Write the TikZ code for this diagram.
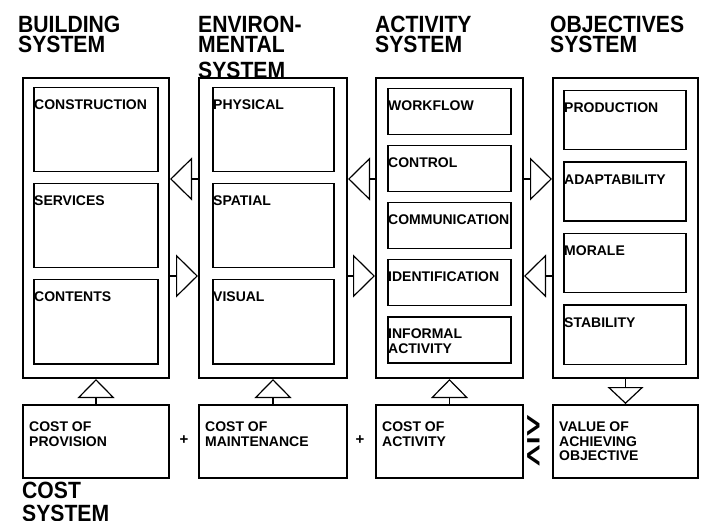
\documentclass[tikz,border=0pt]{standalone}
\usepackage{fontspec}
\setmainfont{Liberation Sans}
\newfontfamily\titlefont[FakeStretch=0.9]{Liberation Sans}
\newfontfamily\relfont{DejaVu Sans}
\usetikzlibrary{arrows.meta}

\tikzset{
  sysbox/.style={draw, line width=2pt, anchor=north west, minimum height=300pt, inner sep=0pt},
  partbox/.style={draw, line width=1.5pt, anchor=north west, inner sep=0pt},
  costbox/.style={draw, line width=2pt, anchor=north west, minimum height=73pt, inner sep=0pt},
  partlabel/.style={anchor=north west, inner sep=0pt, align=left, xshift=1pt, yshift=-13pt, font=\bfseries\fontsize{14}{14.5}\selectfont},
  systitle/.style={anchor=north west, inner sep=0pt, align=left, font=\titlefont\bfseries\fontsize{23.5}{20}\selectfont},
  op/.style={inner sep=0pt, font=\bfseries\fontsize{15}{15}\selectfont},
  htri/.style={line width=1.2pt, -{Triangle[open,length=22pt,width=43pt]}},
  vtri/.style={line width=1.2pt, -{Triangle[open,length=19pt,width=37pt]}},
  dtri/.style={line width=1.2pt, -{Triangle[open,length=17pt,width=36pt]}}
}

\begin{document}
\begin{tikzpicture}[x=1pt,y=-1pt]
\useasboundingbox (0,0) rectangle (704,521);
\node[systitle] (btitle) at (18,16) {BUILDING\\SYSTEM};
\node[systitle] (etitle) at (198,16) {ENVIRON-\\MENTAL\\[6pt]SYSTEM};
\node[systitle] (atitle) at (375,16) {ACTIVITY\\SYSTEM};
\node[systitle] (otitle) at (550,16) {OBJECTIVES\\SYSTEM};
\node[systitle] (ctitle) at (22,482) {COST\\[3pt]SYSTEM};
\foreach \Name/\X/\W in {build/22/146, env/198/148, act/375/147, obj/552/145}
    \node[sysbox, minimum width=\W pt] (\Name) at (\X,77) {};
\foreach \Name/\Label/\Y in {constr/CONSTRUCTION/87, serv/SERVICES/183, cont/CONTENTS/279}
    \node[partbox, minimum width=124pt, minimum height=84pt, label={[partlabel]north west:\Label}] (\Name) at (33,\Y) {};
\foreach \Name/\Label/\Y in {phys/PHYSICAL/87, spat/SPATIAL/183, vis/VISUAL/279}
    \node[partbox, minimum width=121pt, minimum height=84pt, label={[partlabel]north west:\Label}] (\Name) at (212,\Y) {};
\foreach \Name/\Label/\Y in {work/WORKFLOW/88, ctrl/CONTROL/145, comm/COMMUNICATION/202, ident/IDENTIFICATION/259, inform/{INFORMAL\\ACTIVITY}/316}
    \node[partbox, minimum width=123pt, minimum height=46pt, label={[partlabel]north west:\Label}] (\Name) at (387,\Y) {};
\foreach \Name/\Label/\Y in {prod/PRODUCTION/90, adapt/ADAPTABILITY/161.5, morale/MORALE/233, stab/STABILITY/304.5}
    \node[partbox, minimum width=122pt, minimum height=59pt, label={[partlabel]north west:\Label}] (\Name) at (563,\Y) {};
\foreach \Name/\X/\W/\Label in {cprov/22/146/{COST OF\\PROVISION}, cmaint/198/148/{COST OF\\MAINTENANCE}, cact/375/147/{COST OF\\ACTIVITY}, cval/552/145/{VALUE OF\\ACHIEVING\\OBJECTIVE}}
    \node[costbox, minimum width=\W pt, label={[partlabel, xshift=6pt, yshift=-5pt]north west:\Label}] (\Name) at (\X,404) {};
\node[op] (plus1) at (184,440) {+};
\node[op] (plus2) at (360,440) {+};
\node[inner sep=0pt, font=\relfont\fontsize{47}{47}\selectfont] (rel) at (534,441) {\scalebox{0.42}[1]{⋛}};
\draw[htri] ([yshift=49pt]env.west) -- ([yshift=49pt]build.east);
\draw[htri] ([yshift=-48pt]build.east) -- ([yshift=-48pt]env.west);
\draw[htri] ([yshift=49pt]act.west) -- ([yshift=49pt]env.east);
\draw[htri] ([yshift=-48pt]env.east) -- ([yshift=-48pt]act.west);
\draw[htri] ([yshift=49pt]act.east) -- ([yshift=49pt]obj.west);
\draw[htri] ([yshift=-48pt]obj.west) -- ([yshift=-48pt]act.east);
\draw[vtri] (cprov) -- (build);
\draw[vtri] (cmaint) -- (env);
\draw[vtri] (cact) -- (act);
\draw[dtri] (obj) -- (cval);
\end{tikzpicture}
\end{document}
